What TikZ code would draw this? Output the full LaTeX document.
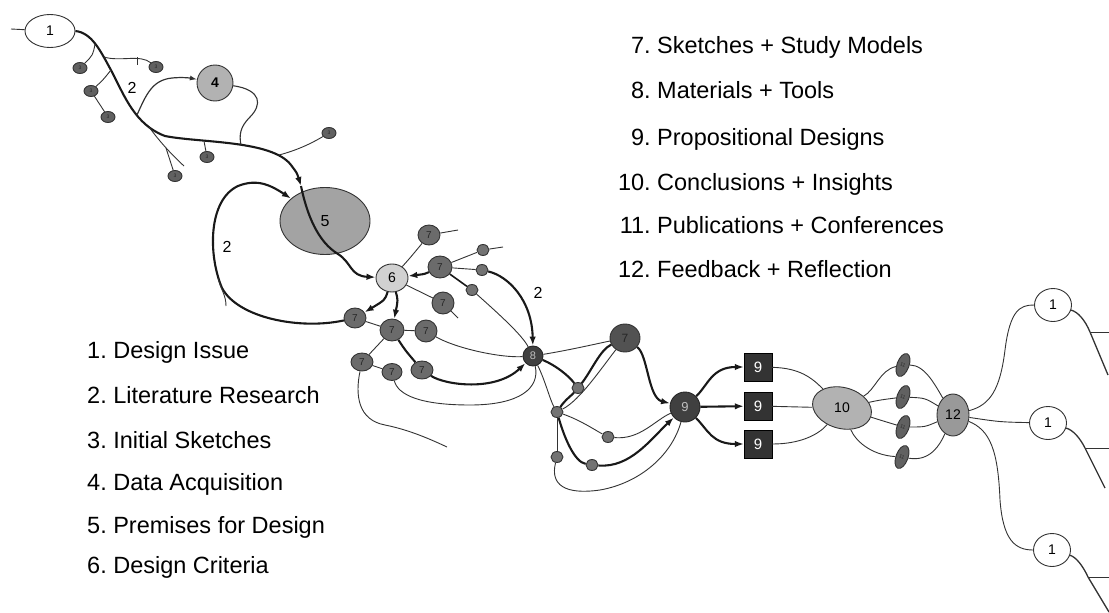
\documentclass[tikz,border=0pt]{standalone}
\usepackage{fontspec}
\setmainfont{Liberation Sans}
\usetikzlibrary{shapes.geometric,arrows.meta}
\frenchspacing
\begin{document}
\begin{tikzpicture}[x=1pt,y=-1pt,
  thk/.style={line width=2.1pt,black!90},
  thn/.style={line width=0.9pt,black!80},
  tip/.style={-{Latex[length=9pt,width=6.5pt]}},
  stip/.style={-{Latex[length=7pt,width=5pt]}},
  blob/.style={ellipse,draw=black!80,line width=0.9pt,inner sep=0pt},
  wnode/.style={blob,fill=white,minimum width=50pt,minimum height=33pt,font=\fontsize{14}{14}\selectfont},
  rnode/.style={blob,fill=white,minimum width=37pt,minimum height=33pt,font=\fontsize{14}{14}\selectfont},
  sev/.style={blob,fill=black!58,text=black!85,font=\fontsize{10}{10}\selectfont},
  thr/.style={blob,fill=black!62,text=black!85,minimum width=14pt,minimum height=11pt,font=\fontsize{5}{5}\selectfont},
  sdot/.style={blob,fill=black!55,minimum width=12pt,minimum height=11pt},
  ele/.style={blob,fill=black!62,text=black!85,minimum width=12pt,minimum height=24pt,rotate=-20,font=\fontsize{5}{5}\selectfont},
  darkc/.style={circle,draw=black!85,fill=black!75,text=black!25,inner sep=0pt,line width=0.9pt},
  sqbox/.style={rectangle,draw=black,fill=black!80,text=white,minimum size=28pt,inner sep=0pt,font=\fontsize{15}{15}\selectfont},
  lbl/.style={inner sep=0pt,font=\fontsize{16}{16}\selectfont},
  lgd/.style={inner sep=0pt,font=\fontsize{23.5}{26}\selectfont}
]
\useasboundingbox (0,0) rectangle (1109,613);

% ---------- legends ----------
\node[lgd,anchor=base west] (l1) at (87,358) {1. Design Issue};
\node[lgd,anchor=base west] (l2) at (87,403) {2. Literature Research};
\node[lgd,anchor=base west] (l3) at (87,448) {3. Initial Sketches};
\node[lgd,anchor=base west] (l4) at (87,490) {4. Data Acquisition};
\node[lgd,anchor=base west] (l5) at (87,533) {5. Premises for Design};
\node[lgd,anchor=base west] (l6) at (87,573) {6. Design Criteria};

\node[lgd,anchor=base west] (l7) at (657,53) {\llap{7.\ }Sketches + Study Models};
\node[lgd,anchor=base west] (l8) at (657,98) {\llap{8.\ }Materials + Tools};
\node[lgd,anchor=base west] (l9) at (657,145) {\llap{9.\ }Propositional Designs};
\node[lgd,anchor=base west] (l10) at (657,190) {\llap{10.\ }Conclusions + Insights};
\node[lgd,anchor=base west] (l11) at (657,233) {\llap{11.\ }Publications + Conferences};
\node[lgd,anchor=base west] (l12) at (657,277) {\llap{12.\ }Feedback + Reflection};

% ---------- nodes ----------
\node[wnode] (n1) at (50,31) {1};
\node[thr] (t1) at (80,68) {3};
\node[thr] (t2) at (91,91) {3};
\node[thr] (t3) at (108,117) {3};
\node[thr] (t4) at (156,67) {3};
\node[thr] (t5) at (207,157) {3};
\node[thr] (t6) at (175,176) {3};
\node[thr] (t7) at (329,133) {3};
\node[circle,draw=black!80,fill=black!30,line width=0.9pt,minimum size=36pt,inner sep=0pt,font=\fontsize{14}{14}\selectfont\bfseries] (n4) at (215,83) {4};
\node[blob,fill=black!36,minimum width=90pt,minimum height=67pt,font=\fontsize{16}{16}\selectfont] (n5) at (325,221) {5};
\node[blob,fill=black!18,minimum width=32pt,minimum height=28pt,font=\fontsize{14}{14}\selectfont] (n6) at (392,278) {6};

\node[sev,minimum width=22pt,minimum height=20pt] (n7a) at (429,235) {7};
\node[sev,minimum width=24pt,minimum height=22pt] (n7b) at (440,267) {7};
\node[sev,minimum width=22pt,minimum height=22pt] (n7c) at (443,303) {7};
\node[sev,minimum width=22pt,minimum height=20pt] (n7d) at (355,318) {7};
\node[sev,minimum width=24pt,minimum height=22pt] (n7e) at (392,330) {7};
\node[sev,minimum width=22pt,minimum height=22pt] (n7f) at (426,331) {7};
\node[sev,minimum width=22pt,minimum height=18pt] (n7g) at (422,370) {7};
\node[sev,minimum width=22pt,minimum height=18pt] (n7h) at (362,362) {7};
\node[sev,minimum width=20pt,minimum height=17pt] (n7i) at (392,372) {7};
\node[sdot] (d1) at (483,250) {};
\node[sdot] (d2) at (482,270) {};
\node[sdot] (d3) at (472,290) {};

\node[darkc,minimum size=20pt,font=\fontsize{11}{11}\selectfont] (n8) at (533,356) {8};
\node[sev,fill=black!68,minimum width=30pt,minimum height=28pt,font=\fontsize{12}{12}\selectfont] (n7x) at (625,338) {7};
\node[sdot] (s1) at (578,388) {};
\node[sdot] (s2) at (557,412) {};
\node[sdot] (s3) at (608,437) {};
\node[sdot] (s4) at (592,465) {};
\node[sdot] (s5) at (557,457) {};
\node[darkc,minimum size=30pt,font=\fontsize{13}{13}\selectfont] (n9) at (685,407) {9};

\node[sqbox] (q1) at (758,367) {9};
\node[sqbox] (q2) at (758,406) {9};
\node[sqbox] (q3) at (758,444) {9};

% tilted outline of the conclusions, its number set upright on top
\node[blob,fill=black!30,minimum width=60pt,minimum height=41pt,rotate=-15] (n10) at (842,408) {};
\node[inner sep=0pt,font=\fontsize{14}{14}\selectfont] (n10t) at (842,408) {10};
\node[ele] (e1) at (903,365) {11};
\node[ele] (e2) at (903,397) {11};
\node[ele] (e3) at (903,427) {11};
\node[ele] (e4) at (902,457) {11};
\node[blob,fill=black!40,minimum width=32pt,minimum height=42pt,font=\fontsize{14}{14}\selectfont] (n12) at (953,415) {12};

\node[rnode] (r1) at (1053,305) {1};
\node[rnode] (r2) at (1048,423) {1};
\node[rnode] (r3) at (1052,550) {1};

% ---------- labels on connectors ----------
\node[lbl] (m1) at (132,88) {2};
\node[lbl] (m2) at (227,247) {2};
\node[lbl] (m3) at (538,293) {2};

% ---------- free ends and branch points ----------
\coordinate (lt) at (11,29);
\coordinate (a5) at (301,186);
\coordinate (b1) at (95,44);
\coordinate (b2) at (104,57);
\coordinate (b3) at (111,70);
\coordinate (b7) at (137,115);
\coordinate (b4) at (149,127);
\coordinate (b5) at (204,141);
\coordinate (b8) at (241,145);
\coordinate (b6) at (279,155);
\coordinate (tl1) at (184,166);
\coordinate (b9) at (166,148);
\coordinate (k1) at (137,57);
\coordinate (k2) at (137,65);
\coordinate (lp) at (218,278);
\coordinate (lpe) at (226,306);
\coordinate (e7a) at (458,230);
\coordinate (ed1) at (503,247);
\coordinate (e7c) at (458,318);
\coordinate (e7h) at (447,447);
\coordinate (r1b) at (1090,332);
\coordinate (r1h) at (1109,332);
\coordinate (r1d) at (1108,375);
\coordinate (r2b) at (1085,448);
\coordinate (r2h) at (1109,448);
\coordinate (r2d) at (1105,488);
\coordinate (r3b) at (1088,577);
\coordinate (r3h) at (1109,577);
\coordinate (r3d) at (1109,612);

% ---------- early phase ----------
\draw[thn] (lt) -- (n1);
\draw[thk,tip] (n1.east) .. controls (92,33) and (100,50) .. (112,72)
   .. controls (124,95) and (135,125) .. (165,136)
   .. controls (200,143) and (272,140) .. (291,165)
   .. controls (297,173) .. (a5);
\draw[thk,tip] (a5) .. controls (307,215) and (318,242) .. (338,254)
   .. controls (352,263) and (350,276) .. (n6);

\draw[thn] (b1) .. controls (93,55) .. (t1);
\draw[thn] (b2) .. controls (120,62) and (140,54) .. (t4);
\draw[thn] (k1) -- (k2);
\draw[thn] (b3) .. controls (103,80) .. (t2);
\draw[thn] (t2) -- (t3);
\draw[thn] (b4) .. controls (160,142) and (172,155) .. (tl1);
\draw[thn] (b9) .. controls (170,160) .. (t6);
\draw[thn] (b5) -- (t5);
\draw[thn] (b6) .. controls (298,150) and (312,143) .. (t7);

\draw[thn,line width=1.2pt,stip] (b7) .. controls (146,95) and (152,80) .. (172,78)
   .. controls (182,77) and (190,78) .. (n4);
\draw[thn,line width=1.1pt] (n4) .. controls (262,90) and (262,105) .. (250,117)
   .. controls (240,127) and (239,135) .. (b8);

% literature loop back into the premises
\draw[thk,tip] (n7d) .. controls (300,330) and (238,318) .. (222,288)
   .. controls (208,255) and (208,200) .. (238,186)
   .. controls (258,178) and (272,186) .. (n5);
\draw[thn] (lp) .. controls (221,290) and (226,295) .. (lpe);

% ---------- criteria and sketches ----------
\draw[thn] (n6) .. controls (410,258) .. (n7a);
\draw[thn] (n7a) -- (e7a);
\draw[thk,tip] (n7b) .. controls (425,274) .. (n6);
\draw[thn] (n7b) -- (d1);
\draw[thn] (d1) -- (ed1);
\draw[thn] (n7b) -- (d2);
\draw[thk,line width=1.6pt] (n7b) -- (d3);
\draw[thk,tip] (d2) .. controls (508,276) and (532,300) .. (n8);
\draw[thn] (d3) .. controls (500,315) and (522,335) .. (n8);
\draw[thn] (n6) -- (n7c);
\draw[thn] (n7c) -- (e7c);
\draw[thk,tip] (n6) .. controls (385,300) .. (n7d);
\draw[thk,tip] (n6) .. controls (398,300) .. (n7e);
\draw[thn] (n7d) -- (n7e);
\draw[thn] (n7e) -- (n7f);
\draw[thn] (n7f) .. controls (455,348) and (500,358) .. (n8);
\draw[thk] (n7e) .. controls (405,350) .. (n7g);
\draw[thk,tip] (n7g) .. controls (445,385) and (495,392) .. (n8);
\draw[thn] (n7e) -- (n7h);
\draw[thn] (n7h) -- (n7i);
\draw[thn] (n7h) .. controls (355,395) and (358,420) .. (385,425)
   .. controls (410,430) and (432,440) .. (e7h);
\draw[thn] (n7i) .. controls (398,395) and (420,405) .. (470,405)
   .. controls (520,405) and (540,388) .. (n8);

% ---------- materials and propositions ----------
\draw[thn] (n8) .. controls (570,350) and (600,343) .. (n7x);
\draw[thk] (n8) .. controls (555,365) and (568,375) .. (s1);
\draw[thk] (s1) .. controls (592,370) and (600,350) .. (n7x);
\draw[thn] (n8) .. controls (545,380) and (550,400) .. (s2);
\draw[thk] (s2) .. controls (565,400) and (572,395) .. (s1);
\draw[thn] (s2) .. controls (580,400) and (600,370) .. (n7x);
\draw[thn] (s2) .. controls (580,420) and (595,430) .. (s3);
\draw[thk] (s2) .. controls (565,440) and (575,462) .. (s4);
\draw[thn] (s2) -- (s5);
\draw[thn] (s5) .. controls (550,485) and (565,495) .. (600,490)
   .. controls (640,483) and (672,455) .. (n9);
\draw[thk,tip] (n7x) .. controls (648,355) and (648,398) .. (n9);
\draw[thn] (s3) .. controls (640,440) and (655,420) .. (n9);
\draw[thk,tip] (s4) .. controls (630,468) and (650,440) .. (n9);

\draw[thk,tip] (n9) .. controls (708,385) and (712,367) .. (q1);
\draw[thk,tip] (n9) -- (q2);
\draw[thk,tip] (n9) .. controls (708,430) and (712,444) .. (q3);

% ---------- conclusions, publications, feedback ----------
\draw[thn] (q1) .. controls (800,368) and (812,378) .. (n10);
\draw[thn] (q2) -- (n10);
\draw[thn] (q3) .. controls (800,444) and (818,435) .. (n10);

\draw[thn] (n10) .. controls (875,390) and (880,370) .. (e1);
\draw[thn] (n10) .. controls (880,400) .. (e2);
\draw[thn] (n10) .. controls (880,420) .. (e3);
\draw[thn] (n10) .. controls (855,440) and (870,455) .. (e4);
\draw[thn] (e1) .. controls (925,365) and (935,385) .. (n12);
\draw[thn] (e2) .. controls (925,398) .. (n12);
\draw[thn] (e3) .. controls (925,427) .. (n12);
\draw[thn] (e4) .. controls (930,462) and (940,445) .. (n12);

\draw[thn] (n12) .. controls (990,405) and (1000,390) .. (1005,350)
   .. controls (1010,310) and (1020,305) .. (r1);
\draw[thn] (n12) .. controls (1000,422) .. (r2);
\draw[thn] (n12) .. controls (990,430) and (998,450) .. (1000,500)
   .. controls (1003,540) and (1015,550) .. (r3);

% next cycle
\draw[thn,line width=1.3pt] (r1) .. controls (1078,312) and (1085,320) .. (r1b) -- (r1d);
\draw[thn] (r1b) -- (r1h);
\draw[thn,line width=1.3pt] (r2) .. controls (1073,430) and (1080,438) .. (r2b) -- (r2d);
\draw[thn] (r2b) -- (r2h);
\draw[thn,line width=1.3pt] (r3) .. controls (1076,557) and (1083,566) .. (r3b) -- (r3d);
\draw[thn] (r3b) -- (r3h);
\end{tikzpicture}
\end{document}
